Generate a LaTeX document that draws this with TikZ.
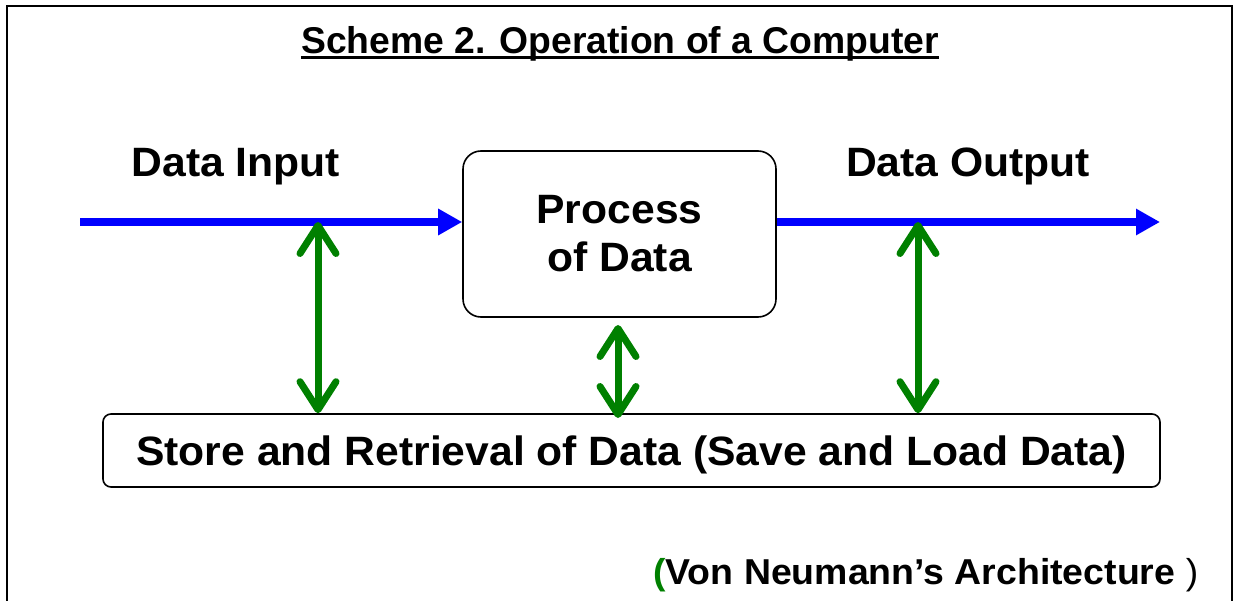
\documentclass[tikz,border=0pt]{standalone}
\usepackage{fontspec}
\setmainfont{Liberation Sans}
\newfontfamily\widesans[FakeStretch=1.04]{Liberation Sans}
\usetikzlibrary{arrows.meta}
\definecolor{flowblue}{RGB}{0,0,255}
\definecolor{memgreen}{RGB}{0,128,0}
\begin{document}
\begin{tikzpicture}[x=1pt,y=-1pt,
  bigtext/.style={font=\widesans\fontsize{41}{48}\selectfont\bfseries, inner sep=0pt},
  flow/.style={draw=flowblue, line width=7.5pt, -{Triangle[length=24pt,width=25pt]}},
  memlink/.style={draw=memgreen, line width=7pt, line cap=round,
    {Straight Barb[length=28pt,width=36pt,round]}-{Straight Barb[length=28pt,width=36pt,round]}},
  unit/.style={draw, line width=1.6pt, fill=white, align=center}]
\useasboundingbox (0,0) rectangle (1236,601);

% page frame, open at the bottom
\draw[line width=2.5pt] (7,601) -- (7,6) -- (1232,6) -- (1232,601);

% heading with rule
\node[font=\fontsize{37.3}{42}\selectfont\bfseries, inner sep=0pt, anchor=base] (title) at (620,54) {Scheme 2. Operation of a Computer};
\draw[line width=3pt] ([yshift=-4pt]title.base west) -- ([yshift=-4pt]title.base east);

% processing unit and storage
\node[unit, bigtext, rounded corners=18pt, minimum width=313pt, minimum height=166pt] (proc) at (619.5,234) {Process\\of Data};
\node[unit, bigtext, rounded corners=8pt, minimum width=1057pt, minimum height=73pt, text height=30pt, text depth=0pt] (store) at (631.5,450.5) {Store and Retrieval of Data (Save and Load Data)};

% flow labels
\node[bigtext, anchor=base] (inlbl) at (236,177) {Data Input};
\node[bigtext, anchor=base] (outlbl) at (968,177) {Data Output};

% data flow
\coordinate (inStart) at (80,222);
\coordinate (outEnd) at (1160,222);
\draw[flow] (inStart) -- (inStart -| proc.west);
\draw[flow] (proc.east |- outEnd) -- (outEnd);

% exchanges with storage
\coordinate (tapIn) at (318,222);
\coordinate (tapOut) at (918,222);
\coordinate (midTop) at (618,325);
\coordinate (midBot) at (618,418);
\draw[memlink] (tapIn) -- (tapIn |- store.north);
\draw[memlink] (tapOut) -- (tapOut |- store.north);
\draw[memlink] (midTop) -- (midBot);

% caption
\node[font=\widesans\fontsize{36}{40}\selectfont\bfseries, inner sep=0pt, anchor=base west] (caption) at (653,584)
  {\textcolor{memgreen}{(}Von Neumann’s Architecture \textmd{)}};
\end{tikzpicture}
\end{document}
